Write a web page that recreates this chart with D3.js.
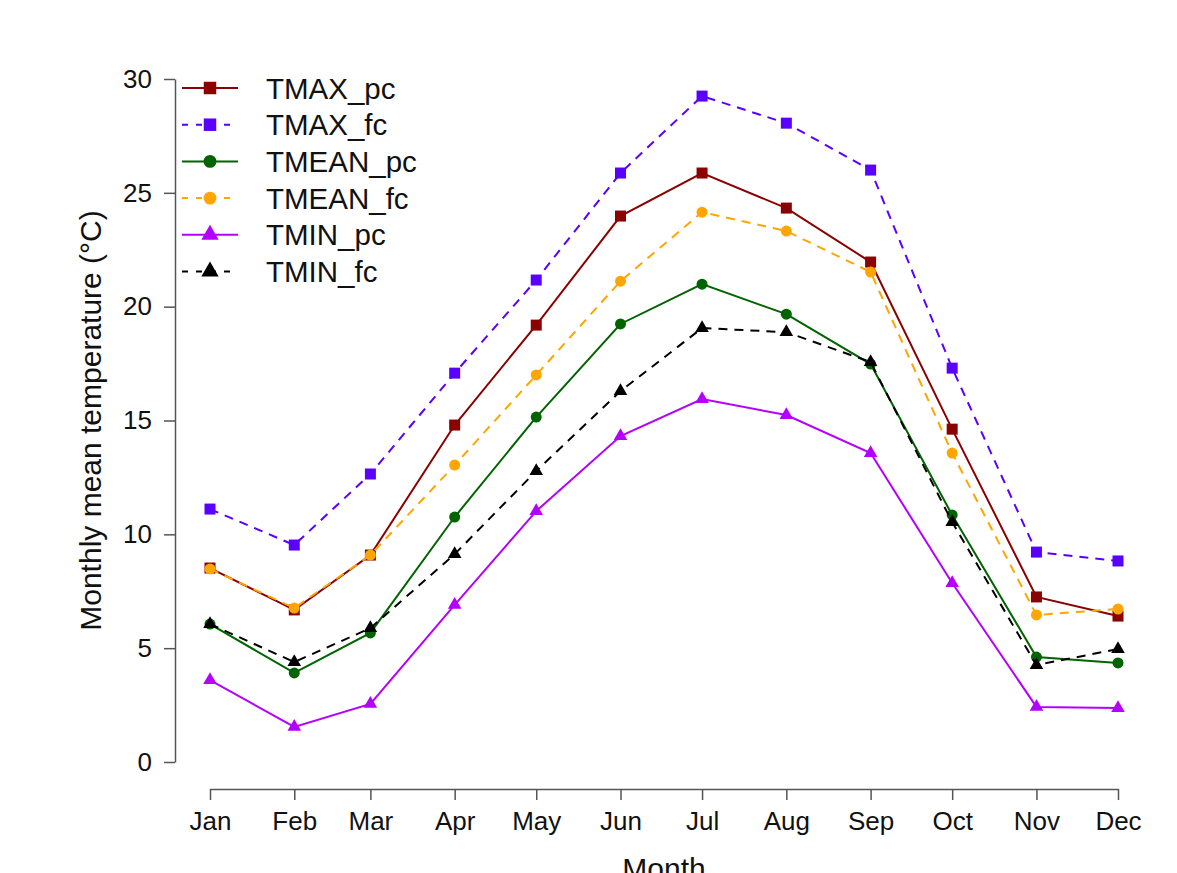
<!DOCTYPE html>
<html>
<head>
<meta charset="utf-8">
<script src="https://cdn.jsdelivr.net/npm/d3@7"></script>
<style>
  body { margin: 0; background: #fff; }
  svg { font-family: "Liberation Sans", Arial, sans-serif; }
</style>
</head>
<body>
<div id="chart"></div>
<script>
// Month labels and dates (1st of each month)
const months = ['Jan', 'Feb', 'Mar', 'Apr', 'May', 'Jun', 'Jul', 'Aug', 'Sep', 'Oct', 'Nov', 'Dec'];
const yTicks = [0, 5, 10, 15, 20, 25, 30];

const tmaxPc  = [8.52, 6.68, 9.09, 14.80, 19.19, 23.98, 25.87, 24.33, 21.96, 14.62, 7.25, 6.41];
const tmaxFc  = [11.11, 9.53, 12.65, 17.08, 21.17, 25.87, 29.25, 28.06, 26.00, 17.30, 9.22, 8.83];
const tmeanPc = [6.06, 3.91, 5.67, 10.76, 15.15, 19.24, 20.99, 19.67, 17.48, 10.85, 4.61, 4.35];
const tmeanFc = [8.48, 6.76, 9.09, 13.04, 17.00, 21.12, 24.15, 23.32, 21.52, 13.57, 6.46, 6.72];
const tminPc  = [3.60, 1.54, 2.55, 6.90, 11.02, 14.32, 15.94, 15.24, 13.57, 7.86, 2.42, 2.37];
const tminFc  = [6.06, 4.39, 5.88, 9.13, 12.78, 16.29, 19.06, 18.88, 17.57, 10.54, 4.26, 4.96];

const seriesNames = ['TMAX_pc', 'TMAX_fc', 'TMEAN_pc', 'TMEAN_fc', 'TMIN_pc', 'TMIN_fc'];
const seriesValues = [tmaxPc, tmaxFc, tmeanPc, tmeanFc, tminPc, tminFc];
const seriesColors = ['#8b0000', '#5a00ff', '#006400', '#ffa500', '#b400ff', '#000000'];
const seriesDashed = [false, true, false, true, false, true];
const seriesShapes = ['square', 'square', 'circle', 'circle', 'triangle', 'triangle'];

const W = 1177, H = 873;
const dates = months.map((m, i) => new Date(2021, i, 1));

const svg = d3.select('#chart').append('svg')
    .attr('width', W)
    .attr('height', H);

const x = d3.scaleTime()
    .domain([dates[0], dates[11]])
    .range([210, 1118]);

const y = d3.scaleLinear()
    .domain([0, 30])
    .range([762, 79]);

// Y axis (R style: detached, gray)
const yAxis = svg.append('g')
    .attr('transform', 'translate(175,0)')
    .call(d3.axisLeft(y).tickValues(yTicks).tickSize(11).tickPadding(12).tickSizeOuter(0));
yAxis.selectAll('text').attr('font-size', 26).attr('fill', '#111').style('font-family', 'Liberation Sans, Arial, sans-serif');

// X axis
const xAxis = svg.append('g')
    .attr('transform', 'translate(0,789)')
    .call(d3.axisBottom(x).tickValues(dates).tickFormat((d, i) => months[i]).tickSize(11).tickPadding(12).tickSizeOuter(0));
xAxis.selectAll('text').attr('font-size', 26).attr('fill', '#111').style('font-family', 'Liberation Sans, Arial, sans-serif');

svg.selectAll('.domain, .tick line').attr('stroke', '#555').attr('stroke-width', 1.5);

// Axis titles
svg.append('text')
    .attr('transform', `translate(101,${(y(0) + y(30)) / 2}) rotate(-90)`)
    .attr('text-anchor', 'middle')
    .attr('font-size', 30)
    .attr('fill', '#111')
    .text('Monthly mean temperature (\u00B0C)');

svg.append('text')
    .attr('x', (x.range()[0] + x.range()[1]) / 2)
    .attr('y', 879)
    .attr('text-anchor', 'middle')
    .attr('font-size', 30)
    .attr('fill', '#111')
    .text('Month');

function symbolFor(shape, big) {
    if (shape === 'square') return d3.symbol(d3.symbolSquare, big ? 156 : 121)();
    if (shape === 'circle') return d3.symbol(d3.symbolCircle, big ? 130 : 95)();
    return d3.symbol(d3.symbolTriangle, big ? 130 : 80)();
}

const line = d3.line()
    .x((d, i) => x(dates[i]))
    .y(d => y(d));

// Lines and markers
seriesValues.forEach((vals, s) => {
    svg.append('path')
        .datum(vals)
        .attr('fill', 'none')
        .attr('stroke', seriesColors[s])
        .attr('stroke-width', 2)
        .attr('stroke-dasharray', seriesDashed[s] ? '9,7' : null)
        .attr('d', line);

    svg.selectAll('.pt' + s)
        .data(vals)
        .enter().append('path')
        .attr('class', 'pt' + s)
        .attr('transform', (d, i) => `translate(${x(dates[i])},${y(d)})`)
        .attr('d', symbolFor(seriesShapes[s], false))
        .attr('fill', seriesColors[s]);
});

// Legend
const legend = svg.append('g').attr('class', 'legend');
seriesNames.forEach((name, s) => {
    const ly = 88 + s * 36.7;
    legend.append('line')
        .attr('x1', 182).attr('x2', 238)
        .attr('y1', ly).attr('y2', ly)
        .attr('stroke', seriesColors[s])
        .attr('stroke-width', 2)
        .attr('stroke-dasharray', seriesDashed[s] ? '6,8' : null);
    legend.append('path')
        .attr('transform', `translate(210,${ly})`)
        .attr('d', symbolFor(seriesShapes[s], true))
        .attr('fill', seriesColors[s]);
    legend.append('text')
        .attr('x', 266)
        .attr('y', ly)
        .attr('dy', '0.36em')
        .attr('font-size', 29.5)
        .attr('fill', '#111')
        .text(name);
});
</script>
</body>
</html>
